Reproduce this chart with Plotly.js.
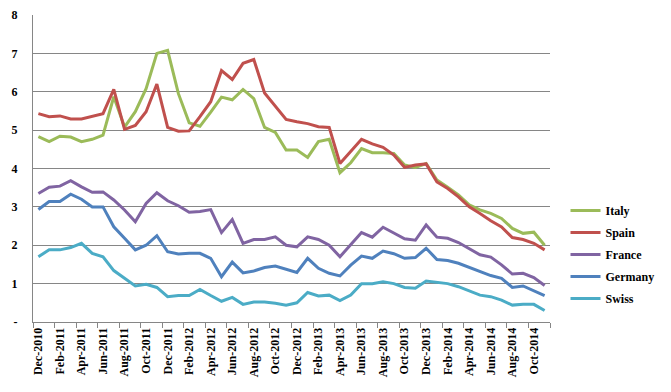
<!DOCTYPE html>
<html>
<head>
<meta charset="utf-8">
<script src="https://cdn.plot.ly/plotly-3.0.1.min.js"></script>
<style>html,body{margin:0;padding:0;background:#fff;}#chart{width:671px;height:392px;}</style>
</head>
<body>
<div id="chart"></div>
<script>
var months = ["Dec-2010","Jan-2011","Feb-2011","Mar-2011","Apr-2011","May-2011","Jun-2011","Jul-2011","Aug-2011","Sep-2011","Oct-2011","Nov-2011",
"Dec-2011","Jan-2012","Feb-2012","Mar-2012","Apr-2012","May-2012","Jun-2012","Jul-2012","Aug-2012","Sep-2012","Oct-2012","Nov-2012",
"Dec-2012","Jan-2013","Feb-2013","Mar-2013","Apr-2013","May-2013","Jun-2013","Jul-2013","Aug-2013","Sep-2013","Oct-2013","Nov-2013",
"Dec-2013","Jan-2014","Feb-2014","Mar-2014","Apr-2014","May-2014","Jun-2014","Jul-2014","Aug-2014","Sep-2014","Oct-2014","Nov-2014"];

var italy = [4.83,4.70,4.84,4.82,4.70,4.76,4.87,5.87,5.08,5.48,6.08,7.00,
7.08,5.95,5.19,5.10,5.47,5.86,5.79,6.06,5.82,5.07,4.94,4.48,
4.48,4.29,4.70,4.76,3.89,4.15,4.52,4.41,4.41,4.39,4.09,4.03,
4.13,3.70,3.51,3.31,3.05,2.92,2.83,2.70,2.44,2.31,2.34,2.00];
var spain = [5.43,5.35,5.37,5.29,5.29,5.36,5.43,6.06,5.02,5.12,5.48,6.20,
5.07,4.97,4.98,5.35,5.74,6.55,6.32,6.74,6.84,5.97,5.62,5.28,
5.22,5.17,5.09,5.07,4.13,4.44,4.76,4.64,4.55,4.35,4.03,4.09,
4.12,3.65,3.48,3.26,3.00,2.83,2.64,2.48,2.20,2.15,2.05,1.88];
var france = [3.35,3.51,3.54,3.68,3.52,3.38,3.39,3.18,2.92,2.61,3.09,3.37,
3.16,3.03,2.86,2.88,2.93,2.33,2.67,2.05,2.15,2.15,2.22,2.00,
1.96,2.22,2.15,2.00,1.70,2.03,2.33,2.21,2.47,2.32,2.17,2.13,
2.53,2.21,2.18,2.07,1.92,1.75,1.69,1.49,1.25,1.27,1.16,0.95];
var germany = [2.93,3.14,3.14,3.33,3.20,3.00,3.00,2.48,2.18,1.88,2.00,2.25,
1.83,1.77,1.79,1.79,1.66,1.18,1.56,1.28,1.33,1.42,1.46,1.37,
1.29,1.66,1.40,1.27,1.20,1.48,1.72,1.66,1.85,1.78,1.66,1.68,
1.92,1.63,1.60,1.53,1.42,1.31,1.21,1.14,0.90,0.94,0.82,0.69];
var swiss = [1.70,1.88,1.88,1.94,2.05,1.79,1.70,1.34,1.14,0.94,0.98,0.90,
0.66,0.69,0.69,0.85,0.69,0.54,0.64,0.46,0.52,0.52,0.49,0.44,
0.50,0.77,0.68,0.70,0.56,0.70,1.00,1.00,1.05,1.00,0.90,0.88,
1.07,1.03,1.00,0.92,0.82,0.70,0.66,0.57,0.44,0.46,0.46,0.30];

var yTickVals = [0,1,2,3,4,5,6,7,8];
var yTickText = ["-","1","2","3","4","5","6","7","8"];

var series = [
  {name:"Italy", y:italy, color:"#9BBB59"},
  {name:"Spain", y:spain, color:"#C0504D"},
  {name:"France", y:france, color:"#8064A2"},
  {name:"Germany", y:germany, color:"#4F81BD"},
  {name:"Swiss", y:swiss, color:"#4BACC6"}
];

var FAM = "Liberation Serif";
var tf = {family:FAM, size:12, color:"#000", weight:"bold"};

var traces = series.map(function(s){
  return {type:"scatter", mode:"lines", name:s.name, x:months, y:s.y,
    legendgroup:s.name,
    line:{color:s.color, width:3}, hoverinfo:"skip"};
});

var layout = {
  width:671, height:392,
  margin:{l:33, r:113, t:15, b:70, pad:0},
  paper_bgcolor:"#fff", plot_bgcolor:"#fff",
  font:{family:FAM, size:12, color:"#000"},
  showlegend:true,
  legend:{x:1.03, xanchor:"left", y:0.22, yanchor:"middle",
    font:tf, tracegroupgap:3, itemwidth:30, bgcolor:"rgba(0,0,0,0)"},
  xaxis:{type:"category", tickmode:"linear", tick0:0, dtick:2,
    tickson:"boundaries", ticks:"outside", ticklen:5, tickcolor:"#868686",
    tickangle:-90, showgrid:false, showline:true, linecolor:"#868686", linewidth:1,
    tickfont:tf, range:[-0.5,47.5], zeroline:false, fixedrange:true},
  yaxis:{range:[0,8], tickmode:"array", tickvals:yTickVals, ticktext:yTickText,
    showgrid:true, gridcolor:"#868686", gridwidth:1, showline:true, linecolor:"#868686",
    ticks:"", ticklabelstandoff:12, zeroline:false,
    tickfont:tf, fixedrange:true}
};

Plotly.newPlot("chart", traces, layout, {staticPlot:true, displayModeBar:false});
</script>
</body>
</html>
